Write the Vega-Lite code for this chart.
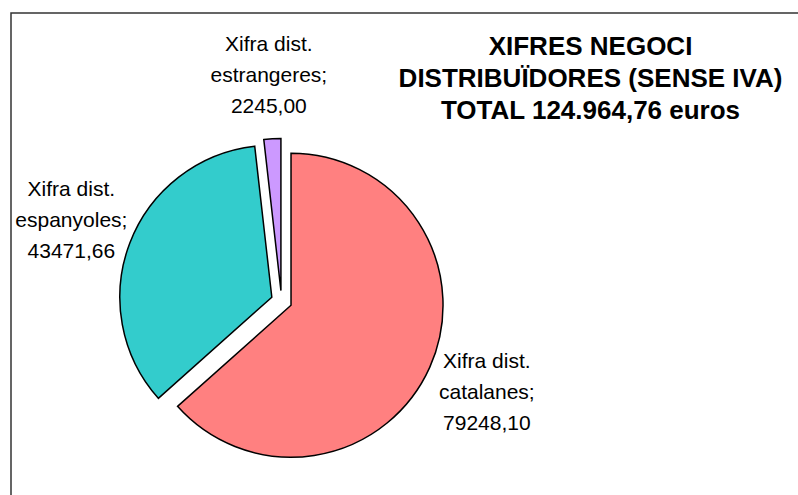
{
  "$schema": "https://vega.github.io/schema/vega-lite/v6.json",
  "width": 798,
  "height": 495,
  "autosize": {"type": "fit", "contains": "padding"},
  "padding": {"left": 11, "top": 13, "right": -4, "bottom": -4},
  "background": "white",
  "view": {"stroke": "#333333", "strokeWidth": 1.5},
  "title": {
    "text": ["XIFRES NEGOCI", "DISTRIBUÏDORES (SENSE IVA)", "TOTAL 124.964,76 euros"],
    "font": "Liberation Sans",
    "fontSize": 26,
    "fontWeight": "bold",
    "lineHeight": 32,
    "color": "black",
    "anchor": "middle",
    "offset": 0,
    "dx": 184,
    "dy": 111
  },
  "data": {
    "values": [
      {"categoria": "Xifra dist. catalanes", "valor": 79248.10, "etiqueta": ["Xifra dist.", "catalanes;", "79248,10"]},
      {"categoria": "Xifra dist. espanyoles", "valor": 43471.66, "etiqueta": ["Xifra dist.", "espanyoles;", "43471,66"]},
      {"categoria": "Xifra dist. estrangeres", "valor": 2245.00, "etiqueta": ["Xifra dist.", "estrangeres;", "2245,00"]}
    ]
  },
  "transform": [
    {"stack": "valor", "groupby": [], "sort": [{"field": "categoria", "order": "ascending"}], "as": ["v0", "v1"]}
  ],
  "resolve": {"scale": {"theta": "shared"}},
  "layer": [
    {
      "transform": [{"filter": "datum.categoria === 'Xifra dist. catalanes'"}],
      "mark": {
        "type": "arc", "outerRadius": 152, "stroke": "black", "strokeWidth": 1.5,
        "x": {"expr": "width*0.342"}, "y": {"expr": "height*0.5926"},
        "xOffset": 9.5, "yOffset": 4.2
      },
      "encoding": {
        "theta": {"field": "v0", "type": "quantitative"},
        "theta2": {"field": "v1"},
        "color": {
          "field": "categoria", "type": "nominal",
          "scale": {"domain": ["Xifra dist. catalanes", "Xifra dist. espanyoles", "Xifra dist. estrangeres"], "range": ["#FF8080", "#33CCCC", "#CC99FF"]},
          "legend": null
        }
      }
    },
    {
      "transform": [{"filter": "datum.categoria === 'Xifra dist. espanyoles'"}],
      "mark": {
        "type": "arc", "outerRadius": 152, "stroke": "black", "strokeWidth": 1.5,
        "x": {"expr": "width*0.342"}, "y": {"expr": "height*0.5926"},
        "xOffset": -9.7, "yOffset": -3.8
      },
      "encoding": {
        "theta": {"field": "v0", "type": "quantitative"},
        "theta2": {"field": "v1"},
        "color": {"field": "categoria", "type": "nominal", "legend": null}
      }
    },
    {
      "transform": [{"filter": "datum.categoria === 'Xifra dist. estrangeres'"}],
      "mark": {
        "type": "arc", "outerRadius": 152, "stroke": "black", "strokeWidth": 1.5,
        "x": {"expr": "width*0.342"}, "y": {"expr": "height*0.5926"},
        "xOffset": -0.6, "yOffset": -10.4
      },
      "encoding": {
        "theta": {"field": "v0", "type": "quantitative"},
        "theta2": {"field": "v1"},
        "color": {"field": "categoria", "type": "nominal", "legend": null}
      }
    },
    {
      "mark": {
        "type": "text", "radius": 225,
        "font": "Liberation Sans", "fontSize": 21, "lineHeight": 31,
        "color": "black", "align": "center", "baseline": "middle", "dy": -31,
        "x": {"expr": "width*0.342"}, "y": {"expr": "height*0.5926"}
      },
      "encoding": {
        "theta": {"field": "valor", "type": "quantitative", "stack": true},
        "order": {"field": "categoria", "type": "nominal", "sort": "ascending"},
        "text": {"field": "etiqueta"}
      }
    }
  ]
}
